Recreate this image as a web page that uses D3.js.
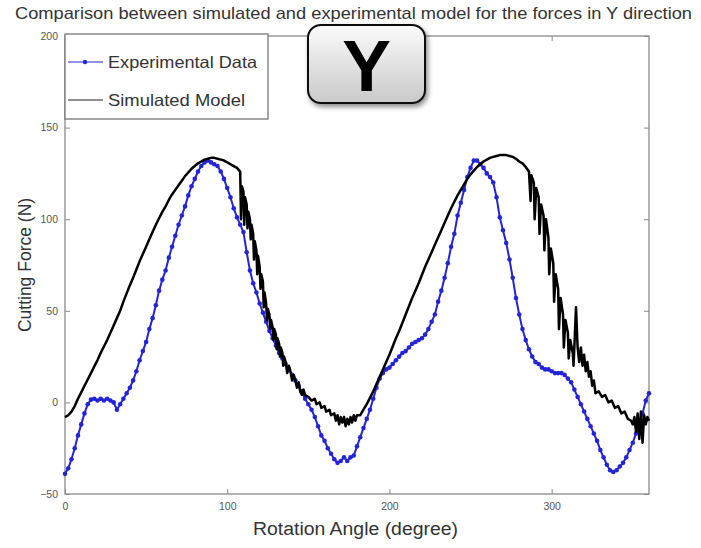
<!DOCTYPE html>
<html>
<head>
<meta charset="utf-8">
<script src="https://cdn.jsdelivr.net/npm/d3@7"></script>
<style>
  body { margin: 0; background: #fff; }
  text { font-family: "Liberation Sans", Arial, sans-serif; }
</style>
</head>
<body>
<div id="chart"></div>
<script>
// tick labels
const xTicks = [0, 100, 200, 300];
const yTicks = [-50, 0, 50, 100, 150, 200];

// experimental data, one value every 2 degrees (0..360)
const expStep = 2;
const expForce = [
  -39, -36, -31, -25, -18, -12, -6, -1, 1.5, 2, 1, 2, 1, 2, 1, 0, -4, -1, 2, 5,
  8, 12, 17, 23, 28, 33, 40, 46, 53, 61, 67, 72, 79, 85, 91, 97, 102, 107, 113, 118,
  122, 126, 129, 131, 132, 131, 130, 129, 126, 122, 117, 112, 106, 101, 97, 93, 82, 72, 65, 60,
  54, 49, 44, 39, 35, 31, 27, 24, 21, 18, 15, 12, 9, 6, 2, -1, -4, -8, -13, -18,
  -21, -25, -28, -31, -33, -32, -30, -32, -30, -29, -24, -19, -14, -9, -4, 2, 8, 13, 16, 18,
  19, 21, 23, 25, 27, 28, 30, 32, 33, 34, 35, 37, 40, 44, 48, 55, 61, 68, 76, 85,
  92, 102, 109, 116, 123, 128, 132, 132, 130, 128, 125, 123, 120, 112, 101, 94, 87, 78, 68, 57,
  48, 40, 34, 29, 25, 22, 21, 19, 18, 18, 17, 16, 16, 16, 15, 13, 11, 7, 3, -1,
  -5, -9, -13, -17, -21, -26, -30, -34, -37, -38, -37, -35, -33, -30, -26, -22, -17, -12, -6, 1,
  5
];

// simulated model
const simAngle = [
  0, 2, 4, 6, 8, 10, 12, 14, 16, 18, 20, 22, 24, 26, 28, 30, 32, 34, 36, 38,
  40, 42, 44, 46, 48, 50, 52, 54, 56, 58, 60, 62, 64, 66, 68, 70, 72, 74, 76, 78,
  80, 82, 84, 86, 88, 90, 92, 94, 96, 98, 100, 102, 104, 106, 108,
  108.5, 109, 110, 110.5, 111, 112, 112.5, 113, 114, 114.5, 115, 116, 116.5, 117, 118, 118.5, 119, 120, 120.5,
  121, 122, 122.5, 123, 124, 124.5, 125, 126, 126.5, 127, 128, 128.5, 129, 130, 130.5, 131, 132, 132.5, 133,
  134, 134.5, 135, 136, 137, 138, 139, 140, 141, 142, 143, 144, 145, 146, 147, 148, 150, 152, 154, 155,
  157, 158, 160, 161, 163, 164, 166, 167, 168, 169, 170, 171, 172, 173, 174, 175, 176, 177, 178, 179, 180,
  182, 184, 186, 188, 190, 192, 194, 196, 198, 200, 202, 204, 206, 208, 210, 212, 214, 216, 218, 220,
  222, 224, 226, 228, 230, 232, 234, 236, 238, 240, 242, 244, 246, 248, 250, 252, 254, 256, 258, 260,
  262, 264, 266, 268, 270, 272, 274, 276, 278, 280, 282, 284, 286,
  287, 287.5, 289, 289.5, 290.5, 292, 292.5, 293.5, 295, 295.5, 296.5, 298, 298.5, 299.5, 301, 301.5, 302.5, 304, 304.5,
  305.5, 307, 307.5, 308.5, 310, 310.5, 311.5, 313, 313.5, 315, 316, 317, 318, 319, 320, 321, 322, 323, 324, 325,
  326, 327, 329, 331, 333, 335, 337, 339, 341, 343, 345, 347, 349, 350, 351, 352, 353, 354, 355, 356,
  357, 358, 359, 360
];
const simForce = [
  -8, -7, -5, -2, 2, 5.5, 9, 12.5, 16, 19.5, 23, 27, 30.5, 34, 38, 42, 46, 50, 55, 59.5,
  64, 68, 72.5, 77, 81, 85, 89, 93, 97, 100.5, 104, 107, 110.5, 113.5, 116, 118.5, 121, 123.5, 125.5, 127.5,
  129, 130.5, 131.5, 132.5, 133, 133.5, 133.5, 133, 132.5, 132, 131, 130, 129, 128, 126,
  100, 118, 115, 97, 112, 108, 95, 104, 100, 89, 97, 92, 78, 88, 83, 70, 80, 74, 62,
  70, 66, 52, 60, 54, 45, 51, 48, 40, 45, 41, 34, 40, 37, 29, 35, 32, 25, 30,
  27, 20, 25, 22, 16, 20, 17, 12, 15, 12, 8, 11, 6, 4, 7, 4, 3, 1, 2, -1,
  0, -3, -2, -5, -4, -7, -6, -10, -7, -12, -8, -11, -8, -13, -9, -12, -8, -11, -7, -10, -7,
  -7, -4, -1, 2.5, 6, 10, 14, 18, 22, 26, 30.5, 35, 39, 43.5, 48, 52.5, 57, 61, 65, 69.5,
  74, 78, 82, 86, 90, 94, 98, 102, 106, 109.5, 113, 116, 119, 122, 124.5, 126.5, 128.5, 130, 131.5, 132.5,
  133.5, 134, 134.5, 135, 135, 135, 134.5, 134, 133, 131.5, 130.5, 128.5, 126,
  110, 124, 120, 100, 117, 112, 92, 108, 102, 83, 100, 90, 70, 84, 76, 55, 70, 62, 40,
  57, 48, 30, 45, 38, 24, 34, 27, 20, 52, 30, 22, 30, 20, 26, 17, 22, 14, 17, 9,
  12, 5, 6, 3, 4, 0, 1, -3, -2, -6, -5, -9, -10, -12, -8, -16, -6, -20, -5, -22,
  -7, -12, -8, -10
];

const expColor = "#2424d6";

const margin = {top: 36, right: 52, bottom: 54, left: 65},
  width = 701 - margin.left - margin.right,
  height = 548 - margin.top - margin.bottom;

const root = d3.select("#chart")
  .append("svg")
  .attr("width", 701)
  .attr("height", 548);

const defs = root.append("defs");
const grad = defs.append("linearGradient")
  .attr("id", "badgeFill")
  .attr("x1", 0).attr("y1", 0).attr("x2", 0).attr("y2", 1);
grad.append("stop").attr("offset", "0%").attr("stop-color", "#fbfbfb");
grad.append("stop").attr("offset", "100%").attr("stop-color", "#c9c9c9");
const shadow = defs.append("filter").attr("id", "badgeShadow")
  .attr("x", "-20%").attr("y", "-20%").attr("width", "150%").attr("height", "150%");
shadow.append("feDropShadow")
  .attr("dx", 2).attr("dy", 3).attr("stdDeviation", 2.5)
  .attr("flood-color", "#000").attr("flood-opacity", 0.45);

// title
root.append("text")
  .attr("x", 15)
  .attr("y", 19)
  .attr("font-size", "17px")
  .attr("fill", "#333")
  .attr("textLength", 677)
  .attr("lengthAdjust", "spacingAndGlyphs")
  .text("Comparison between simulated and experimental model for the forces in Y direction");

const svg = root.append("g")
  .attr("transform", `translate(${margin.left}, ${margin.top})`);

// scales
const x = d3.scaleLinear()
  .domain([0, 360])
  .range([0, width]);
const y = d3.scaleLinear()
  .domain([-50, 200])
  .range([height, 0]);

// axes, ticks pointing inward
const axisColor = "#8a8a8a";
svg.append("g")
  .attr("transform", `translate(0, ${height})`)
  .call(d3.axisBottom(x).tickValues(xTicks).tickSizeInner(-5).tickSizeOuter(0).tickPadding(9));
svg.append("g")
  .call(d3.axisLeft(y).tickValues(yTicks).tickSizeInner(-5).tickSizeOuter(0).tickPadding(7));
svg.append("g")
  .call(d3.axisTop(x).tickValues(xTicks).tickSizeInner(-5).tickSizeOuter(0).tickFormat(""));
svg.append("g")
  .attr("transform", `translate(${width}, 0)`)
  .call(d3.axisRight(y).tickValues(yTicks).tickSizeInner(-5).tickSizeOuter(0).tickFormat(""));

svg.selectAll(".domain").remove();
svg.selectAll(".tick line").attr("stroke", axisColor);
svg.selectAll(".tick text")
  .attr("fill", "#555")
  .attr("font-size", "10.5px")
  .attr("font-family", "Liberation Sans, Arial, sans-serif");

svg.append("rect")
  .attr("width", width)
  .attr("height", height)
  .attr("fill", "none")
  .attr("stroke", axisColor)
  .attr("stroke-width", 1.3);

// lines
const expData = expForce.map((v, i) => ({a: i * expStep, f: v}));
const simData = simAngle.map((a, i) => ({a: a, f: simForce[i]}));

const line = d3.line()
  .x(d => x(d.a))
  .y(d => y(d.f));

svg.append("path")
  .datum(expData)
  .attr("fill", "none")
  .attr("stroke", expColor)
  .attr("stroke-width", 2)
  .attr("d", line);

svg.append("g")
  .selectAll("circle")
  .data(expData)
  .join("circle")
  .attr("cx", d => x(d.a))
  .attr("cy", d => y(d.f))
  .attr("r", 2.3)
  .attr("fill", expColor);

svg.append("path")
  .datum(simData)
  .attr("fill", "none")
  .attr("stroke", "#000")
  .attr("stroke-width", 2.5)
  .attr("stroke-linejoin", "round")
  .attr("d", line);

// legend
const legend = svg.append("g").attr("transform", "translate(0, -2)");
legend.append("rect")
  .attr("width", 203)
  .attr("height", 85)
  .attr("fill", "#fff")
  .attr("stroke", "#777")
  .attr("stroke-width", 1.3);
legend.append("line")
  .attr("x1", 3).attr("x2", 38).attr("y1", 28).attr("y2", 28)
  .attr("stroke", expColor).attr("stroke-width", 1.2);
legend.append("circle")
  .attr("cx", 20).attr("cy", 28).attr("r", 2.2)
  .attr("fill", expColor);
legend.append("text")
  .attr("x", 43).attr("y", 34)
  .attr("font-size", "16.5px").attr("fill", "#333")
  .attr("textLength", 149)
  .attr("lengthAdjust", "spacingAndGlyphs")
  .text("Experimental Data");
legend.append("line")
  .attr("x1", 3).attr("x2", 38).attr("y1", 66).attr("y2", 66)
  .attr("stroke", "#222").attr("stroke-width", 1.2);
legend.append("text")
  .attr("x", 43).attr("y", 72)
  .attr("font-size", "16.5px").attr("fill", "#333")
  .attr("textLength", 137)
  .attr("lengthAdjust", "spacingAndGlyphs")
  .text("Simulated Model");

// axis labels
root.append("text")
  .attr("x", 253)
  .attr("y", 535)
  .attr("font-size", "18px")
  .attr("fill", "#333")
  .attr("textLength", 205)
  .attr("lengthAdjust", "spacingAndGlyphs")
  .text("Rotation Angle (degree)");
root.append("text")
  .attr("transform", "translate(31, 265) rotate(-90)")
  .attr("text-anchor", "middle")
  .attr("font-size", "17.5px")
  .attr("fill", "#333")
  .text("Cutting Force (N)");

// Y badge
const badge = root.append("g").attr("filter", "url(#badgeShadow)");
badge.append("rect")
  .attr("x", 308).attr("y", 25)
  .attr("width", 117).attr("height", 78)
  .attr("rx", 13)
  .attr("fill", "url(#badgeFill)")
  .attr("stroke", "#111")
  .attr("stroke-width", 2);
badge.append("text")
  .attr("x", 366.5).attr("y", 91)
  .attr("text-anchor", "middle")
  .attr("font-size", "73px")
  .attr("font-weight", "bold")
  .attr("fill", "#000")
  .text("Y");
</script>
</body>
</html>
